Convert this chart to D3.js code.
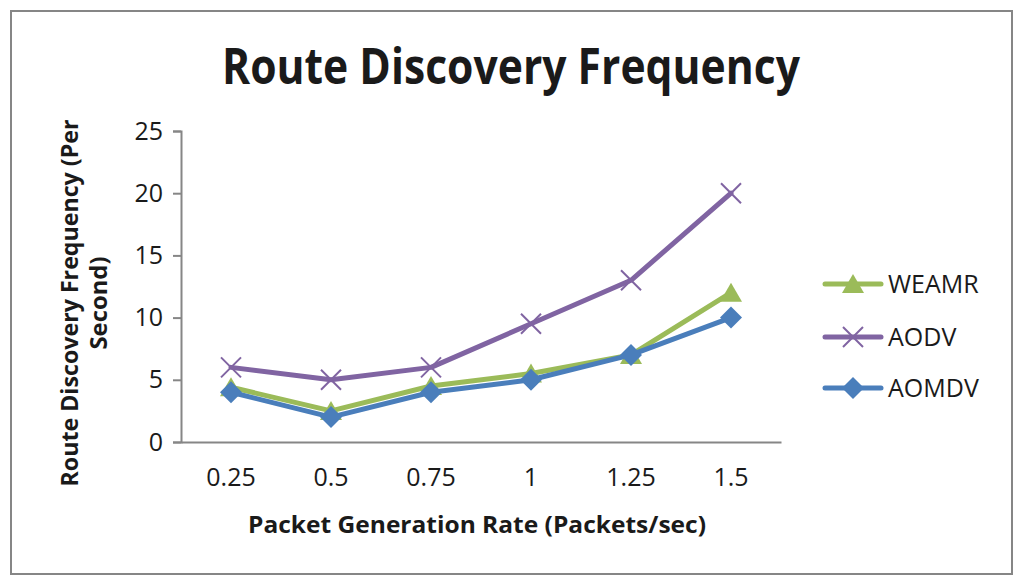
<!DOCTYPE html>
<html>
<head>
<meta charset="utf-8">
<script src="https://cdn.jsdelivr.net/npm/d3@7"></script>
<style>
    body{margin:0;background:#fff;}
    #myChart{width:1024px;height:587px;}
</style>
</head>
<body>
<div id="myChart"></div>
<script>
/* data */
var categories=["0.25","0.5","0.75","1","1.25","1.5"];
var yTicks=[0,5,10,15,20,25];
var seriesNames=["WEAMR","AODV","AOMDV"];
var weamr=[4.4,2.5,4.5,5.5,7,12];
var aodv=[6,5,6,9.5,13,20];
var aomdv=[4,2,4,5,7,10];
var colors=["#9bbb59","#8064a2","#4a7ebb"];
var symbols=["triangle","cross","diamond"];

var svgWidth=1024, svgHeight=587;
var font="'Open Sans',Calibri,sans-serif";
var svg=d3.select("#myChart").append("svg")
    .attr("width",svgWidth)
    .attr("height",svgHeight);

/* outer border */
svg.append("rect")
    .attr("x",11).attr("y",11)
    .attr("width",1001).attr("height",563)
    .attr("fill","#fff")
    .attr("stroke","#868686")
    .attr("stroke-width",2);

/* title */
svg.append("text")
    .attr("x",511).attr("y",84)
    .attr("text-anchor","middle")
    .attr("font-family",font)
    .attr("font-weight","bold")
    .attr("font-size",50)
    .attr("textLength",578)
    .attr("lengthAdjust","spacingAndGlyphs")
    .attr("fill","#1a1a1a")
    .text("Route Discovery Frequency");

/* scales */
var plotLeft=181, plotRight=781, plotTop=131, plotBottom=442;
var x=d3.scaleBand().domain(categories).range([plotLeft,plotRight]);
var y=d3.scaleLinear().domain([0,25]).range([plotBottom,plotTop]);

/* y axis */
var yAxis=d3.axisLeft(y)
    .tickValues(yTicks)
    .tickSize(8)
    .tickPadding(10);
var gy=svg.append("g")
    .attr("transform","translate("+plotLeft+",0)")
    .call(yAxis);
gy.select(".domain").attr("stroke","#868686").attr("stroke-width",2);
gy.selectAll(".tick line").attr("stroke","#868686").attr("stroke-width",2);
gy.selectAll(".tick text")
    .attr("font-family",font)
    .attr("font-size",25)
    .attr("fill","#1a1a1a");

/* x axis */
var xAxis=d3.axisBottom(x)
    .tickSize(0)
    .tickPadding(26);
var gx=svg.append("g")
    .attr("transform","translate(0,"+plotBottom+")")
    .call(xAxis);
gx.select(".domain").attr("stroke","#868686").attr("stroke-width",2);
gx.selectAll(".tick text")
    .attr("font-family",font)
    .attr("font-size",25)
    .attr("fill","#1a1a1a");

/* axis titles */
svg.append("text")
    .attr("x",477).attr("y",533)
    .attr("text-anchor","middle")
    .attr("font-family",font)
    .attr("font-weight","bold")
    .attr("font-size",24)
    .attr("textLength",458)
    .attr("lengthAdjust","spacingAndGlyphs")
    .attr("fill","#1a1a1a")
    .text("Packet Generation Rate (Packets/sec)");

var yLabel=[["Route Discovery Frequency (Per",367,78],["Second)",93,107]];
yLabel.forEach(function(d){
    svg.append("text")
        .attr("transform","translate("+d[2]+",303) rotate(-90)")
        .attr("text-anchor","middle")
        .attr("font-family",font)
        .attr("font-weight","bold")
        .attr("font-size",24)
        .attr("textLength",d[1])
        .attr("lengthAdjust","spacingAndGlyphs")
        .attr("fill","#1a1a1a")
        .text(d[0]);
});

/* marker drawing */
function drawMarker(g,type,cx,cy,color){
    if(type=="triangle"){
        g.append("path")
            .attr("d","M"+cx+","+(cy-10)+"L"+(cx+11)+","+(cy+9)+"L"+(cx-11)+","+(cy+9)+"Z")
            .attr("fill",color);
    }else if(type=="diamond"){
        g.append("path")
            .attr("d","M"+cx+","+(cy-11)+"L"+(cx+11)+","+cy+"L"+cx+","+(cy+11)+"L"+(cx-11)+","+cy+"Z")
            .attr("fill",color);
    }else{
        g.append("path")
            .attr("d","M"+(cx-10)+","+(cy-10)+"L"+(cx+10)+","+(cy+10)+"M"+(cx+10)+","+(cy-10)+"L"+(cx-10)+","+(cy+10))
            .attr("stroke",color)
            .attr("stroke-width",2)
            .attr("fill","none");
    }
}

/* lines */
var allSeries=[weamr,aodv,aomdv];
var line=d3.line()
    .x(function(d,i){return x(categories[i])+x.bandwidth()/2;})
    .y(function(d){return y(d);});
allSeries.forEach(function(vals,k){
    var g=svg.append("g");
    g.append("path")
        .datum(vals)
        .attr("d",line)
        .attr("fill","none")
        .attr("stroke",colors[k])
        .attr("stroke-width",5)
        .attr("stroke-linejoin","round")
        .attr("stroke-linecap","round");
    vals.forEach(function(v,i){
        drawMarker(g,symbols[k],x(categories[i])+x.bandwidth()/2,y(v),colors[k]);
    });
});

/* legend */
var legendY=[284,337,388];
seriesNames.forEach(function(name,k){
    var g=svg.append("g");
    g.append("line")
        .attr("x1",825).attr("x2",881)
        .attr("y1",legendY[k]).attr("y2",legendY[k])
        .attr("stroke",colors[k])
        .attr("stroke-width",5)
        .attr("stroke-linecap","round");
    drawMarker(g,symbols[k],853,legendY[k],colors[k]);
    g.append("text")
        .attr("x",888).attr("y",legendY[k]+9)
        .attr("font-family",font)
        .attr("font-size",25)
        .attr("fill","#1a1a1a")
        .text(name);
});
</script>
</body>
</html>
